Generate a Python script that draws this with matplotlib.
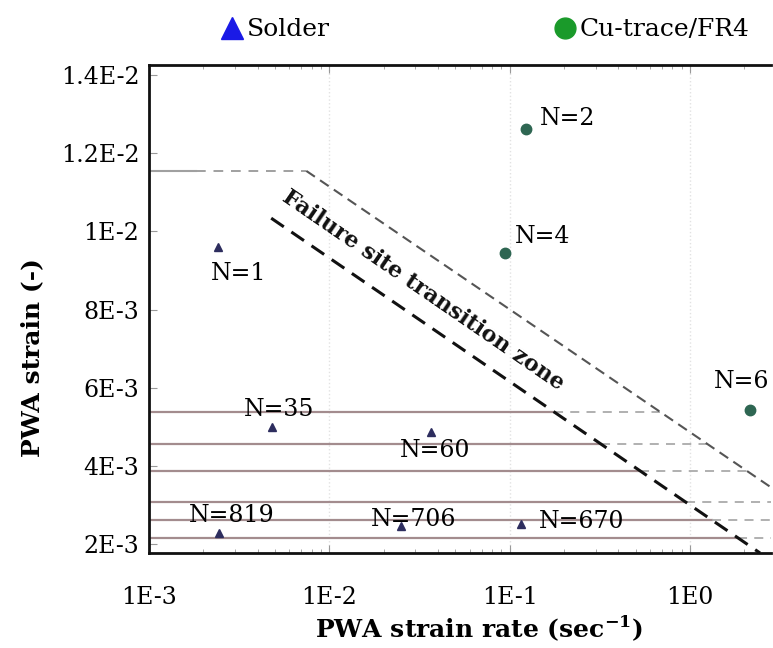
import numpy as np
import matplotlib
matplotlib.use("Agg")
import matplotlib.pyplot as plt
from matplotlib.lines import Line2D
from matplotlib.ticker import FixedLocator, FixedFormatter, LogLocator, NullFormatter

# ---------------- data ----------------
solder_labels = ["N=1", "N=35", "N=60", "N=819", "N=706", "N=670"]
solder_rate = [0.00242, 0.00484, 0.0367, 0.00245, 0.0250, 0.116]
solder_strain = [0.0096, 0.00499, 0.00487, 0.00227, 0.00246, 0.00251]

cu_labels = ["N=2", "N=4", "N=6"]
cu_rate = [0.124, 0.094, 2.15]
cu_strain = [0.01262, 0.00945, 0.00543]

# horizontal strain levels (solid to lower boundary, dashed to upper boundary)
level_strain = [0.005378, 0.004559, 0.003868, 0.003075, 0.002614, 0.002154]
# top plateau line
top_level = 0.01155
top_solid_end = 0.00182
# transition zone boundaries (rate, strain) endpoints
upper_rate = [0.00745, 2.82]
upper_strain = [0.01155, 0.00345]
lower_rate = [0.00476, 2.45]
lower_strain = [0.01034, 0.00177]

xlim = (1e-3, 10 ** 0.45)
ylim = (0.00177, 0.01426)
yticks = [0.002, 0.004, 0.006, 0.008, 0.010, 0.012, 0.014]
ytick_labels = ["2E-3", "4E-3", "6E-3", "8E-3", "1E-2", "1.2E-2", "1.4E-2"]
xticks = [1e-3, 1e-2, 1e-1, 1e0]
xtick_labels = ["1E-3", "1E-2", "1E-1", "1E0"]

FONT = "DejaVu Serif"
plt.rcParams["font.family"] = [FONT]

fig = plt.figure(figsize=(7.73, 6.48), dpi=100)
ax = fig.add_axes([0.1928, 0.1466, 0.8046, 0.7531])
ax.set_xscale("log")
ax.set_xlim(*xlim)
ax.set_ylim(*ylim)


def boundary_x(rate, strain, s):
    lr = np.log10(rate)
    t = (s - strain[0]) / (strain[1] - strain[0])
    return 10 ** (lr[0] + t * (lr[1] - lr[0]))


# grid
for xv in xticks[1:]:
    ax.axvline(xv, color="#e2e2e2", lw=1.0, ls=":", zorder=0)

# horizontal levels
for s in level_strain:
    xl = boundary_x(lower_rate, lower_strain, s)
    xu = min(boundary_x(upper_rate, upper_strain, s), xlim[1])
    ax.plot([xlim[0], xl], [s, s], color="#a38c8e", lw=1.6, zorder=1)
    ax.plot([xl, xu], [s, s], color="#aaaaaa", lw=1.3, ls=(0, (5, 4)), zorder=1)

# top plateau
ax.plot([xlim[0], top_solid_end], [top_level, top_level], color="#a0a0a0", lw=1.5, zorder=1)
ax.plot([top_solid_end, upper_rate[0]], [top_level, top_level], color="#a0a0a0", lw=1.4,
        ls=(0, (5, 4)), zorder=1)

# boundaries
ax.plot(upper_rate, upper_strain, color="#555555", lw=1.5, ls=(0, (5, 3)), zorder=2)
ax.plot(lower_rate, lower_strain, color="#111111", lw=2.2, ls=(0, (5, 3)), zorder=2)

ax.text(0.033, 0.0085, "Failure site transition zone", rotation=-34.5, ha="center",
        va="center", fontsize=16, fontweight="bold", color="#111111", rotation_mode="anchor")

# data points
ax.plot(solder_rate, solder_strain, ls="none", marker="^", ms=5.5, color="#2d2d5e", zorder=4)
ax.plot(cu_rate, cu_strain, ls="none", marker="o", ms=7.5, color="#2e6652", zorder=4)

solder_off = [(15, -18.7, "center"), (5, 13, "center"), (3, -13.7, "center"),
              (9.4, 13, "center"), (9.4, 5, "center"), (13, 2.2, "left")]
cu_off = [(9.4, 7.9, "left"), (7.2, 11.5, "left"), (-5.8, 20.2, "center")]

for lab, x, y, (dx, dy, ha) in zip(solder_labels, solder_rate, solder_strain, solder_off):
    ax.annotate(lab, (x, y), xytext=(dx, dy), textcoords="offset points", ha=ha,
                va="center", fontsize=17, zorder=5)
for lab, x, y, (dx, dy, ha) in zip(cu_labels, cu_rate, cu_strain, cu_off):
    ax.annotate(lab, (x, y), xytext=(dx, dy), textcoords="offset points", ha=ha,
                va="center", fontsize=17, zorder=5, annotation_clip=False)

# ticks
ax.yaxis.set_major_locator(FixedLocator(yticks))
ax.yaxis.set_major_formatter(FixedFormatter(ytick_labels))
ax.xaxis.set_major_locator(FixedLocator(xticks))
ax.xaxis.set_major_formatter(FixedFormatter(xtick_labels))
ax.xaxis.set_minor_locator(LogLocator(base=10, subs=np.arange(2, 10)))
ax.xaxis.set_minor_formatter(NullFormatter())
ax.tick_params(which="both", direction="in", top=True, right=False, color="#999999",
               labelsize=17)
ax.tick_params(axis="x", which="major", length=6, pad=24)
ax.tick_params(axis="y", which="major", length=6, pad=7)
ax.tick_params(which="minor", length=3)

for sp in ["left", "bottom", "top"]:
    ax.spines[sp].set_linewidth(2.0)
    ax.spines[sp].set_color("#111111")
ax.spines["right"].set_visible(False)

ax.set_xlabel("PWA strain rate (sec$^{\\mathregular{-1}}$)", fontsize=18, fontweight="bold")
ax.set_ylabel("PWA strain (-)", fontsize=18, fontweight="bold")
ax.xaxis.set_label_coords(0.53, -0.122)
ax.yaxis.set_label_coords(-0.168, 0.40)

handles = [Line2D([], [], ls="none", marker="^", ms=16, color="#1a1ae6"),
           Line2D([], [], ls="none", marker="o", ms=15, color="#1a9a2a")]
fig.legend(handles, ["Solder", "Cu-trace/FR4"], loc="center", bbox_to_anchor=(0.627, 0.954),
           ncol=2, frameon=False, fontsize=18, columnspacing=8.9, handletextpad=0.1,
           handlelength=1.0)

fig.savefig("out.png", dpi=100, facecolor="white")
